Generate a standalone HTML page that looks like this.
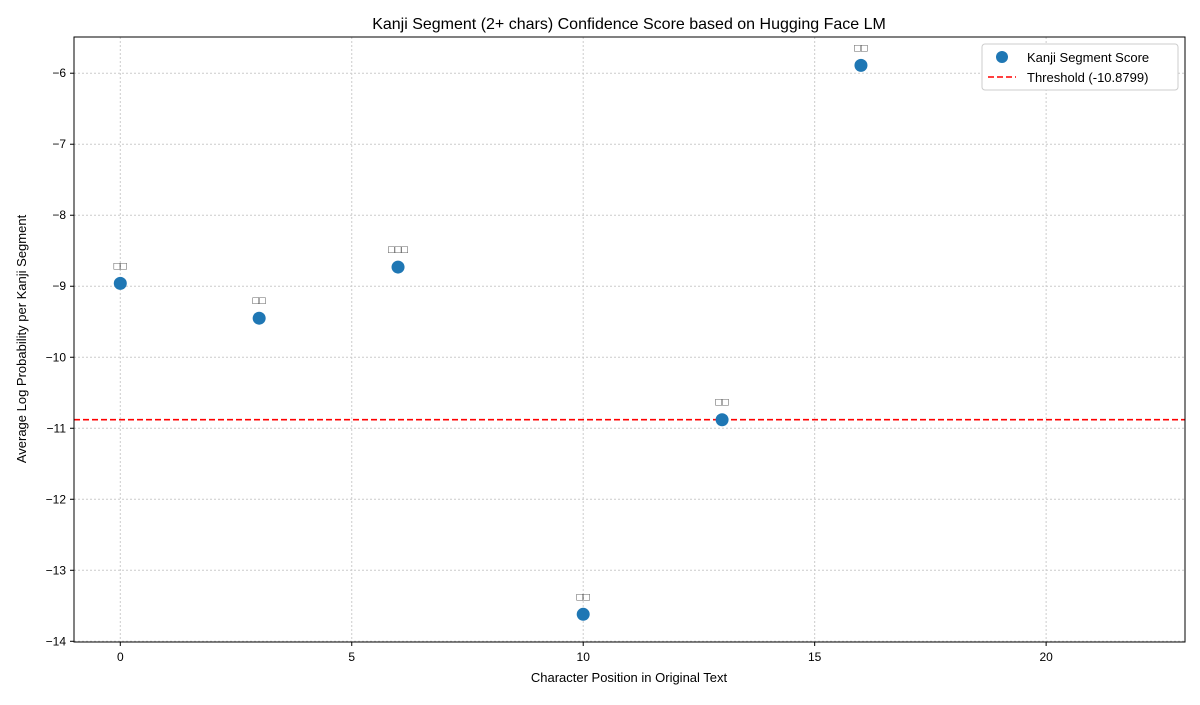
<!DOCTYPE html>
<html><head><meta charset="utf-8"><style>
body{margin:0;background:#fff;font-family:"Liberation Sans","DejaVu Sans",sans-serif}
</style></head><body>
<svg id="chart" width="1200" height="700" xmlns="http://www.w3.org/2000/svg" font-family="Liberation Sans, DejaVu Sans, sans-serif">
<text x="629" y="29" font-size="16" text-anchor="middle">Kanji Segment (2+ chars) Confidence Score based on Hugging Face LM</text>
<g id="grid"></g><g id="marks"></g><g id="axes"></g>
<text x="629" y="682" font-size="13" text-anchor="middle">Character Position in Original Text</text>
<text transform="translate(26,339) rotate(-90)" font-size="13" text-anchor="middle">Average Log Probability per Kanji Segment</text>
<g>
<rect x="982" y="44" width="196" height="46" fill="#fff" stroke="#ccc" rx="3"/>
<circle cx="1002" cy="57" r="6" fill="#1f77b4"/>
<text x="1027" y="62" font-size="13">Kanji Segment Score</text>
<line x1="988" y1="77" x2="1016" y2="77" stroke="red" stroke-width="1.6" stroke-dasharray="6,3"/>
<text id="thr-label" x="1027" y="82" font-size="13">Threshold (-10.8799)</text>
</g>
</svg>
<script>
const positions=[0,3,6,10,13,16];
const scores=[-8.96,-9.45,-8.73,-13.62,-10.88,-5.89];
const labels=["□□","□□","□□□","□□","□□","□□"];
const threshold=-10.8799;
const xTicks=[0,5,10,15,20];
const yTicks=[-6,-7,-8,-9,-10,-11,-12,-13,-14];
const L=74,R=1185,T=37,B=642;
const xmin=-1,xmax=23,ymin=-14.01,ymax=-5.49;
const sx=v=>L+(v-xmin)/(xmax-xmin)*(R-L);
const sy=v=>B-(v-ymin)/(ymax-ymin)*(B-T);
const NS="http://www.w3.org/2000/svg";
function mk(p,tag,a){const e=document.createElementNS(NS,tag);for(const k in a)e.setAttribute(k,a[k]);p.appendChild(e);return e;}
const grid=document.getElementById('grid'),marks=document.getElementById('marks'),axes=document.getElementById('axes');
xTicks.forEach(t=>{const x=sx(t);
const g=mk(grid,'line',{x1:x,x2:x,y1:T,y2:B,stroke:'#ccc','stroke-dasharray':'2,2'});

mk(axes,'line',{x1:x,x2:x,y1:B,y2:B+4,stroke:'#000'});
const tx=mk(axes,'text',{x:x,y:B+19,'font-size':12,'text-anchor':'middle'});tx.textContent=t;
});
yTicks.forEach(t=>{const y=sy(t);
const g=mk(grid,'line',{x1:L,x2:R,y1:y,y2:y,stroke:'#ccc','stroke-dasharray':'2,2'});

mk(axes,'line',{x1:L-4,x2:L,y1:y,y2:y,stroke:'#000'});
const tx=mk(axes,'text',{x:L-8,y:y+4,'font-size':12,'text-anchor':'end'});tx.textContent='−'+Math.abs(t);
});
const fr=mk(axes,'rect',{x:L,y:T,width:R-L,height:B-T,fill:'none',stroke:'#000'});

const th=mk(marks,'line',{x1:L,x2:R,y1:sy(threshold),y2:sy(threshold),stroke:'red','stroke-width':1.6,'stroke-dasharray':'6,3'});

document.getElementById('thr-label').textContent='Threshold ('+threshold.toFixed(4)+')';
positions.forEach((p,i)=>{
const c=mk(marks,'circle',{cx:sx(p),cy:sy(scores[i]),r:6.5,fill:'#1f77b4'});

const t=mk(marks,'text',{x:sx(p),y:sy(scores[i])-14,'font-size':11,'text-anchor':'middle',fill:'#333'});
t.textContent=labels[i];
});
</script>
</body></html>
